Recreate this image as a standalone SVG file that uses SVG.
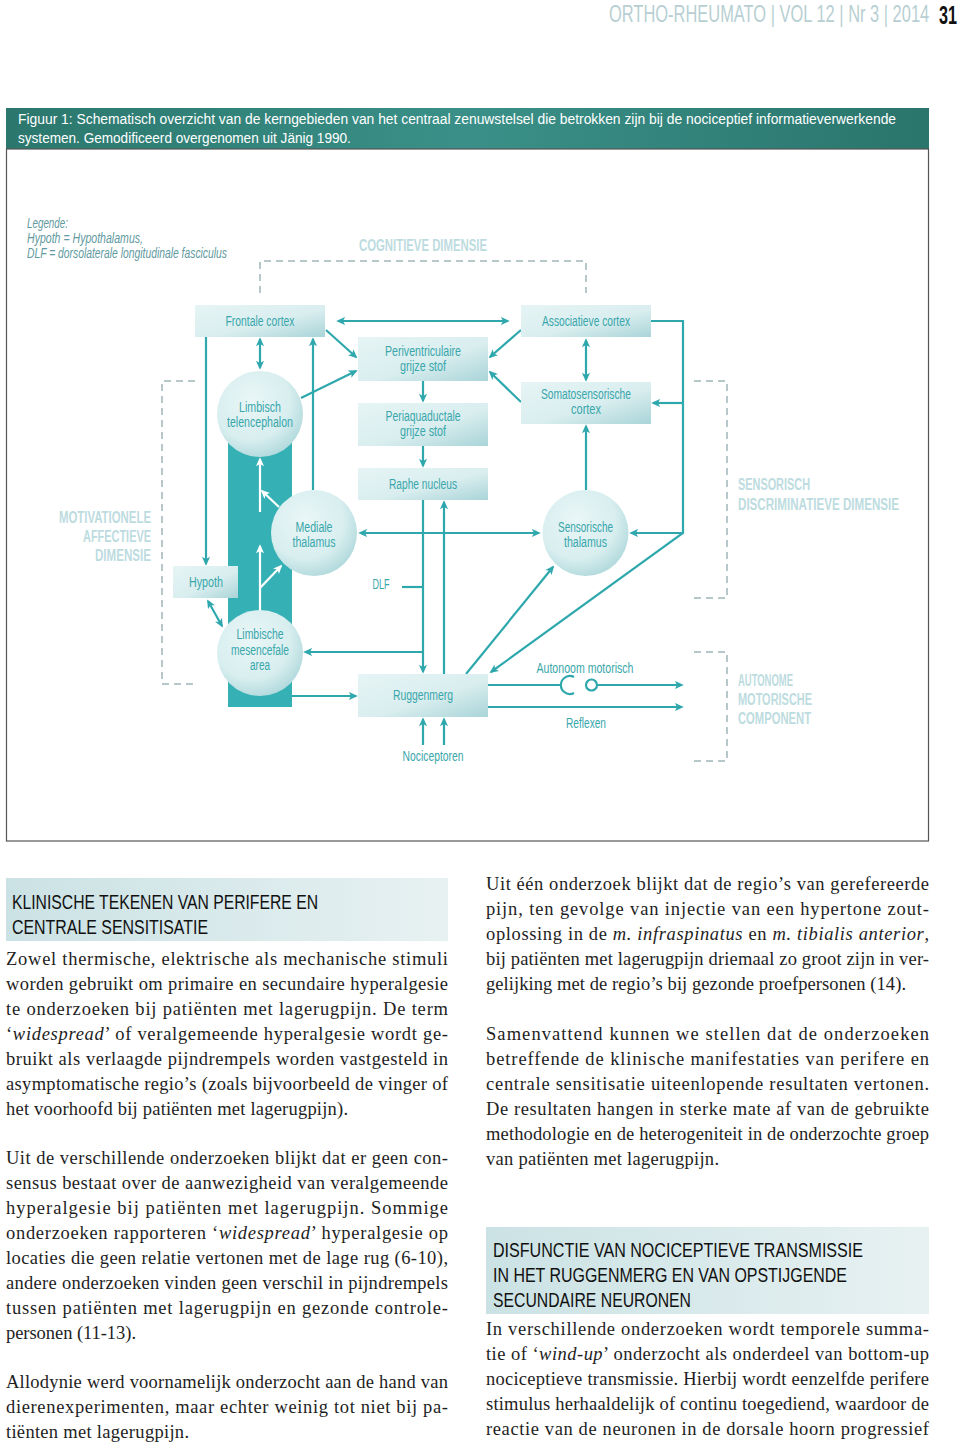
<svg xmlns="http://www.w3.org/2000/svg" width="960" height="1445" viewBox="0 0 960 1445">
<defs>
<style>
.ln{stroke:#2fa8ad;stroke-width:2.2;fill:none}
.wl{stroke:#ffffff;stroke-width:2.2;fill:none}
.ds{stroke:#b7c8cb;stroke-width:2;stroke-dasharray:7 5;fill:none}
.nt{font-family:"Liberation Sans",Arial,sans-serif;font-size:14px;fill:#38a6ab;text-anchor:middle}
.dim{font-family:"Liberation Sans",Arial,sans-serif;font-weight:bold;font-size:16px;fill:#bddcdf}
.lg{font-family:"Liberation Sans",Arial,sans-serif;font-style:italic;font-size:14px;fill:#5f9aa0}
.bd{font-family:"Liberation Serif","Times New Roman",serif;font-size:18.5px;fill:#1e1e1e}
.hd{font-family:"Liberation Sans",Arial,sans-serif;font-size:20px;fill:#111111}
.cp{font-family:"Liberation Sans",Arial,sans-serif;font-size:15px;fill:#ffffff}
.bx{fill:url(#bx)}
.cc{fill:url(#cg)}
</style>
<linearGradient id="bx" x1="0" y1="0" x2="1" y2="1"><stop offset="0" stop-color="#e6f4f5"/><stop offset="0.55" stop-color="#daeeef"/><stop offset="1" stop-color="#a9d4d8"/></linearGradient>
<radialGradient id="cg" cx="0.4" cy="0.35" r="0.75"><stop offset="0" stop-color="#eaf6f7"/><stop offset="0.6" stop-color="#d8eeef"/><stop offset="1" stop-color="#a6d3d7"/></radialGradient>
<linearGradient id="cap" x1="0" x2="1"><stop offset="0" stop-color="#2b776d"/><stop offset="0.5" stop-color="#3a9088"/><stop offset="1" stop-color="#2a756c"/></linearGradient>
<linearGradient id="hb" x1="0" x2="1"><stop offset="0" stop-color="#cbe2e4"/><stop offset="1" stop-color="#e7f1f2"/></linearGradient>
<marker id="a" viewBox="0 0 10 10" refX="8" refY="5" markerWidth="9" markerHeight="9" markerUnits="userSpaceOnUse" orient="auto-start-reverse"><path d="M0,0.5 L10,5 L0,9.5 L2.5,5z" fill="#2fa8ad"/></marker>
<marker id="w" viewBox="0 0 10 10" refX="8" refY="5" markerWidth="9" markerHeight="9" markerUnits="userSpaceOnUse" orient="auto-start-reverse"><path d="M0,0.5 L10,5 L0,9.5 L2.5,5z" fill="#ffffff"/></marker>
</defs>
<rect width="960" height="1445" fill="#ffffff"/>

<g id="header">
<text transform="translate(609,22) scale(0.71,1)" x="0" y="0" font-family="Liberation Sans, Arial, sans-serif" font-size="23" fill="#b7cfd3" textLength="451" lengthAdjust="spacingAndGlyphs">ORTHO-RHEUMATO | VOL 12 | Nr 3 | 2014</text>
<text transform="translate(939,24) scale(0.62,1)" x="0" y="0" font-family="Liberation Sans, Arial, sans-serif" font-size="26" font-weight="bold" fill="#111" textLength="29" lengthAdjust="spacingAndGlyphs">31</text>
</g>

<g id="caption">
<rect x="6" y="108" width="923" height="41" fill="url(#cap)"/>
<text class="cp" transform="translate(18,124) scale(0.86,1)" x="0" y="0" textLength="1021" lengthAdjust="spacingAndGlyphs">Figuur 1: Schematisch overzicht van de kerngebieden van het centraal zenuwstelsel die betrokken zijn bij de nociceptief informatieverwerkende</text>
<text class="cp" transform="translate(18,143) scale(0.86,1)" x="0" y="0" textLength="387" lengthAdjust="spacingAndGlyphs">systemen. Gemodificeerd overgenomen uit Jänig 1990.</text>
</g>

<rect id="frame" x="6.5" y="149" width="922" height="692" fill="none" stroke="#555" stroke-width="1.2"/>

<g id="legend">
<text class="lg" x="27" y="228" textLength="41" lengthAdjust="spacingAndGlyphs">Legende:</text>
<text class="lg" x="27" y="243" textLength="116" lengthAdjust="spacingAndGlyphs">Hypoth = Hypothalamus,</text>
<text class="lg" x="27" y="258" textLength="200" lengthAdjust="spacingAndGlyphs">DLF = dorsolaterale longitudinale fasciculus</text>
</g>

<g id="dimensions">
<path class="ds" d="M260,293 L260,261 L586,261 L586,293"/>
<path class="ds" d="M195,381 L162,381 L162,684 L195,684"/>
<path class="ds" d="M694,381 L727,381 L727,598 L694,598"/>
<path class="ds" d="M694,652 L727,652 L727,761 L694,761"/>
<text class="dim" x="359" y="250.5" textLength="128" lengthAdjust="spacingAndGlyphs">COGNITIEVE DIMENSIE</text>
<text class="dim" x="151" y="522.5" text-anchor="end" textLength="92" lengthAdjust="spacingAndGlyphs">MOTIVATIONELE</text>
<text class="dim" x="151" y="541.5" text-anchor="end" textLength="68" lengthAdjust="spacingAndGlyphs">AFFECTIEVE</text>
<text class="dim" x="151" y="560.5" text-anchor="end" textLength="56" lengthAdjust="spacingAndGlyphs">DIMENSIE</text>
<text class="dim" x="738" y="489.5" textLength="72" lengthAdjust="spacingAndGlyphs">SENSORISCH</text>
<text class="dim" x="738" y="509.5" textLength="161" lengthAdjust="spacingAndGlyphs">DISCRIMINATIEVE DIMENSIE</text>
<text class="dim" x="738" y="685.5" textLength="55" lengthAdjust="spacingAndGlyphs">AUTONOME</text>
<text class="dim" x="738" y="704.5" textLength="74" lengthAdjust="spacingAndGlyphs">MOTORISCHE</text>
<text class="dim" x="738" y="723.5" textLength="73" lengthAdjust="spacingAndGlyphs">COMPONENT</text>
</g>

<rect id="column" x="228" y="414" width="64" height="293" fill="#35b1b5"/>

<g id="connectors">
<path class="ln" d="M260,339 L260,368" marker-start="url(#a)" marker-end="url(#a)"/>
<path class="ln" d="M206,337 L206,564" marker-end="url(#a)"/>
<path class="ln" d="M313,490 L313,339" marker-end="url(#a)"/>
<path class="ln" d="M326,330 L356,357" marker-end="url(#a)"/>
<path class="ln" d="M301,398 L356,371" marker-end="url(#a)"/>
<path class="ln" d="M338,321 L508,321" marker-start="url(#a)" marker-end="url(#a)"/>
<path class="ln" d="M521,330 L490,357" marker-end="url(#a)"/>
<path class="ln" d="M521,402 L490,372" marker-end="url(#a)"/>
<path class="ln" d="M586,340 L586,380" marker-start="url(#a)" marker-end="url(#a)"/>
<path class="ln" d="M423,381 L423,401" marker-end="url(#a)"/>
<path class="ln" d="M423,446 L423,466" marker-end="url(#a)"/>
<path class="ln" d="M651,321 L683,321 L683,533 L491,672" marker-end="url(#a)"/>
<path class="ln" d="M683,403 L653,403" marker-end="url(#a)"/>
<path class="ln" d="M683,533 L631,533" marker-end="url(#a)"/>
<path class="ln" d="M466,674 L553,567" marker-end="url(#a)"/>
<path class="ln" d="M586,490 L586,426" marker-end="url(#a)"/>
<path class="ln" d="M360,533 L539,533" marker-start="url(#a)" marker-end="url(#a)"/>
<path class="ln" d="M402,587 L423,587"/>
<path class="ln" d="M423,500 L423,672" marker-end="url(#a)"/>
<path class="ln" d="M444,674 L444,502" marker-end="url(#a)"/>
<path class="ln" d="M423,652 L305,652" marker-end="url(#a)"/>
<path class="ln" d="M292,696 L356,696" marker-end="url(#a)"/>
<path class="ln" d="M208,601 L222,626" marker-start="url(#a)" marker-end="url(#a)"/>
<path class="ln" d="M423,745 L423,719" marker-end="url(#a)"/>
<path class="ln" d="M444,745 L444,719" marker-end="url(#a)"/>
<path class="ln" d="M488,685 L561,685"/>
<path class="ln" d="M574,677 A9,9 0 1,0 574,693"/>
<circle cx="591.5" cy="685" r="5.5" fill="#fff" stroke="#2fa8ad" stroke-width="2.2"/>
<path class="ln" d="M597,685 L682,685" marker-end="url(#a)"/>
<path class="ln" d="M488,707 L682,707" marker-end="url(#a)"/>
<path class="wl" d="M260,512 L260,459" marker-end="url(#w)"/>
<path class="wl" d="M279,507 L262,491" marker-end="url(#w)"/>
<path class="wl" d="M260,611 L260,546" marker-end="url(#w)"/>
<path class="wl" d="M260,588 L281,566" marker-end="url(#w)"/>
</g>

<g id="frontale-cortex"><rect class="bx" x="195" y="305" width="130" height="32"/><text class="nt" x="260" y="326" textLength="69" lengthAdjust="spacingAndGlyphs">Frontale cortex</text></g>
<g id="associatieve-cortex"><rect class="bx" x="521" y="305" width="130" height="32"/><text class="nt" x="586" y="326" textLength="88" lengthAdjust="spacingAndGlyphs">Associatieve cortex</text></g>
<g id="periventriculaire"><rect class="bx" x="358" y="337" width="130" height="44"/><text class="nt" x="423" y="356" textLength="76" lengthAdjust="spacingAndGlyphs">Periventriculaire</text><text class="nt" x="423" y="371" textLength="46" lengthAdjust="spacingAndGlyphs">grijze stof</text></g>
<g id="periaquaductale"><rect class="bx" x="358" y="403" width="130" height="43"/><text class="nt" x="423" y="421" textLength="75" lengthAdjust="spacingAndGlyphs">Periaquaductale</text><text class="nt" x="423" y="436" textLength="46" lengthAdjust="spacingAndGlyphs">grijze stof</text></g>
<g id="somatosensorische-cortex"><rect class="bx" x="521" y="382" width="130" height="42"/><text class="nt" x="586" y="399" textLength="90" lengthAdjust="spacingAndGlyphs">Somatosensorische</text><text class="nt" x="586" y="414" textLength="30" lengthAdjust="spacingAndGlyphs">cortex</text></g>
<g id="raphe-nucleus"><rect class="bx" x="358" y="468" width="130" height="32"/><text class="nt" x="423" y="489" textLength="68" lengthAdjust="spacingAndGlyphs">Raphe nucleus</text></g>
<g id="hypoth"><rect class="bx" x="173" y="566" width="65" height="32"/><text class="nt" x="206" y="587" textLength="34" lengthAdjust="spacingAndGlyphs">Hypoth</text></g>
<g id="ruggenmerg"><rect class="bx" x="358" y="674" width="130" height="43"/><text class="nt" x="423" y="700" textLength="60" lengthAdjust="spacingAndGlyphs">Ruggenmerg</text></g>
<g id="limbisch-telencephalon"><circle class="cc" cx="260" cy="414" r="43"/><text class="nt" x="260" y="412" textLength="42" lengthAdjust="spacingAndGlyphs">Limbisch</text><text class="nt" x="260" y="427" textLength="66" lengthAdjust="spacingAndGlyphs">telencephalon</text></g>
<g id="mediale-thalamus"><circle class="cc" cx="314" cy="533" r="43"/><text class="nt" x="314" y="532" textLength="37" lengthAdjust="spacingAndGlyphs">Mediale</text><text class="nt" x="314" y="547" textLength="43" lengthAdjust="spacingAndGlyphs">thalamus</text></g>
<g id="sensorische-thalamus"><circle class="cc" cx="585.5" cy="533" r="43"/><text class="nt" x="585.5" y="532" textLength="55" lengthAdjust="spacingAndGlyphs">Sensorische</text><text class="nt" x="585.5" y="547" textLength="43" lengthAdjust="spacingAndGlyphs">thalamus</text></g>
<g id="limbische-mesencefale-area"><circle class="cc" cx="260" cy="653" r="43"/><text class="nt" x="260" y="639" textLength="47" lengthAdjust="spacingAndGlyphs">Limbische</text><text class="nt" x="260" y="655" textLength="58" lengthAdjust="spacingAndGlyphs">mesencefale</text><text class="nt" x="260" y="670" textLength="20" lengthAdjust="spacingAndGlyphs">area</text></g>
<g id="labels">
<text class="nt" x="433" y="761" textLength="61" lengthAdjust="spacingAndGlyphs">Nociceptoren</text>
<text class="nt" x="381" y="589" textLength="17" lengthAdjust="spacingAndGlyphs">DLF</text>
<text class="nt" x="585" y="673" textLength="97" lengthAdjust="spacingAndGlyphs">Autonoom motorisch</text>
<text class="nt" x="586" y="728" textLength="40" lengthAdjust="spacingAndGlyphs">Reflexen</text>
</g>

<g id="article-left">
<rect x="6" y="878" width="442" height="63" fill="url(#hb)"/>
<text class="hd" x="12" y="909" textLength="306" lengthAdjust="spacingAndGlyphs">KLINISCHE TEKENEN VAN PERIFERE EN</text>
<text class="hd" x="12" y="934" textLength="196" lengthAdjust="spacingAndGlyphs">CENTRALE SENSITISATIE</text>
<text class="bd" x="6" y="965" textLength="442">Zowel thermische, elektrische als mechanische stimuli</text>
<text class="bd" x="6" y="990" textLength="442">worden gebruikt om primaire en secundaire hyperalgesie</text>
<text class="bd" x="6" y="1015" textLength="442">te onderzoeken bij patiënten met lagerugpijn. De term</text>
<text class="bd" x="6" y="1040" textLength="442">‘<tspan font-style="italic">widespread</tspan>’ of veralgemeende hyperalgesie wordt ge-</text>
<text class="bd" x="6" y="1065" textLength="442">bruikt als verlaagde pijndrempels worden vastgesteld in</text>
<text class="bd" x="6" y="1090" textLength="442">asymptomatische regio’s (zoals bijvoorbeeld de vinger of</text>
<text class="bd" x="6" y="1115" textLength="342">het voorhoofd bij patiënten met lagerugpijn).</text>
<text class="bd" x="6" y="1164" textLength="442">Uit de verschillende onderzoeken blijkt dat er geen con-</text>
<text class="bd" x="6" y="1189" textLength="442">sensus bestaat over de aanwezigheid van veralgemeende</text>
<text class="bd" x="6" y="1214" textLength="442">hyperalgesie bij patiënten met lagerugpijn. Sommige</text>
<text class="bd" x="6" y="1239" textLength="442">onderzoeken rapporteren ‘<tspan font-style="italic">widespread</tspan>’ hyperalgesie op</text>
<text class="bd" x="6" y="1264" textLength="442">locaties die geen relatie vertonen met de lage rug (6-10),</text>
<text class="bd" x="6" y="1289" textLength="442">andere onderzoeken vinden geen verschil in pijndrempels</text>
<text class="bd" x="6" y="1314" textLength="442">tussen patiënten met lagerugpijn en gezonde controle-</text>
<text class="bd" x="6" y="1339" textLength="130">personen (11-13).</text>
<text class="bd" x="6" y="1388" textLength="442">Allodynie werd voornamelijk onderzocht aan de hand van</text>
<text class="bd" x="6" y="1413" textLength="442">dierenexperimenten, maar echter weinig tot niet bij pa-</text>
<text class="bd" x="6" y="1438" textLength="183">tiënten met lagerugpijn.</text>
</g>

<g id="article-right">
<text class="bd" x="486" y="890" textLength="443">Uit één onderzoek blijkt dat de regio’s van gerefereerde</text>
<text class="bd" x="486" y="915" textLength="443">pijn, ten gevolge van injectie van een hypertone zout-</text>
<text class="bd" x="486" y="940" textLength="443">oplossing in de <tspan font-style="italic">m. infraspinatus</tspan> en <tspan font-style="italic">m. tibialis anterior</tspan>,</text>
<text class="bd" x="486" y="965" textLength="443">bij patiënten met lagerugpijn driemaal zo groot zijn in ver-</text>
<text class="bd" x="486" y="990" textLength="420">gelijking met de regio’s bij gezonde proefpersonen (14).</text>
<text class="bd" x="486" y="1040" textLength="443">Samenvattend kunnen we stellen dat de onderzoeken</text>
<text class="bd" x="486" y="1065" textLength="443">betreffende de klinische manifestaties van perifere en</text>
<text class="bd" x="486" y="1090" textLength="443">centrale sensitisatie uiteenlopende resultaten vertonen.</text>
<text class="bd" x="486" y="1115" textLength="443">De resultaten hangen in sterke mate af van de gebruikte</text>
<text class="bd" x="486" y="1140" textLength="443">methodologie en de heterogeniteit in de onderzochte groep</text>
<text class="bd" x="486" y="1165" textLength="233">van patiënten met lagerugpijn.</text>
<rect x="486" y="1227" width="443" height="87" fill="url(#hb)"/>
<text class="hd" x="493" y="1257" textLength="370" lengthAdjust="spacingAndGlyphs">DISFUNCTIE VAN NOCICEPTIEVE TRANSMISSIE</text>
<text class="hd" x="493" y="1282" textLength="354" lengthAdjust="spacingAndGlyphs">IN HET RUGGENMERG EN VAN OPSTIJGENDE</text>
<text class="hd" x="493" y="1307" textLength="198" lengthAdjust="spacingAndGlyphs">SECUNDAIRE NEURONEN</text>
<text class="bd" x="486" y="1335" textLength="443">In verschillende onderzoeken wordt temporele summa-</text>
<text class="bd" x="486" y="1360" textLength="443">tie of ‘<tspan font-style="italic">wind-up</tspan>’ onderzocht als onderdeel van bottom-up</text>
<text class="bd" x="486" y="1385" textLength="443">nociceptieve transmissie. Hierbij wordt eenzelfde perifere</text>
<text class="bd" x="486" y="1410" textLength="443">stimulus herhaaldelijk of continu toegediend, waardoor de</text>
<text class="bd" x="486" y="1435" textLength="443">reactie van de neuronen in de dorsale hoorn progressief</text>
</g>
</svg>
